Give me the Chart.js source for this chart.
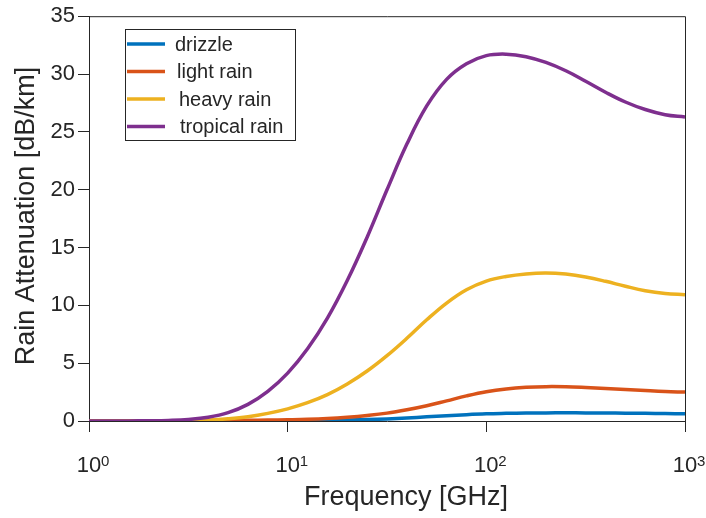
<!DOCTYPE html>
<html>
<head>
<meta charset="utf-8">
<script src="https://cdn.jsdelivr.net/npm/chart.js@4.4.0/dist/chart.umd.min.js"></script>
<style>
  html, body { margin: 0; padding: 0; background: #fff; }
  #wrap { width: 706px; height: 518px; }
</style>
</head>
<body>
<div id="wrap"><canvas id="rainPlot" width="706" height="518"></canvas></div>
<script>
// frequency grid [GHz], ten log steps per decade
const freqs = [1, 1.259, 1.585, 1.995, 2.512, 3.162, 3.981, 5.012, 6.31, 7.943,
  10, 12.59, 15.85, 19.95, 25.12, 31.62, 39.81, 50.12, 63.1, 79.43,
  100, 125.9, 158.5, 199.5, 251.2, 316.2, 398.1, 501.2, 631, 794.3, 1000];

// specific attenuation [dB/km]
const drizzle = [0, 0, 0, 0, 0, 0, 0.005, 0.01, 0.01, 0.015,
  0.02, 0.03, 0.05, 0.08, 0.12, 0.18, 0.26, 0.36, 0.46, 0.55,
  0.62, 0.66, 0.69, 0.7, 0.71, 0.7, 0.69, 0.68, 0.66, 0.64, 0.63];
const lightRain = [0, 0, 0, 0, 0.01, 0.015, 0.025, 0.04, 0.06, 0.08,
  0.11, 0.15, 0.22, 0.33, 0.48, 0.68, 0.97, 1.32, 1.74, 2.17,
  2.53, 2.77, 2.91, 2.97, 2.96, 2.9, 2.82, 2.72, 2.63, 2.55, 2.5];
const heavyRain = [0, 0, 0, 0.01, 0.02, 0.03, 0.08, 0.19, 0.37, 0.66,
  1.05, 1.58, 2.28, 3.2, 4.32, 5.65, 7.15, 8.75, 10.2, 11.35,
  12.1, 12.5, 12.72, 12.8, 12.7, 12.45, 12.08, 11.65, 11.27, 11.03, 10.92];
const tropicalRain = [0, 0, 0.01, 0.02, 0.05, 0.13, 0.32, 0.72, 1.44, 2.56,
  4.14, 6.24, 8.89, 12.14, 15.89, 19.99, 23.94, 27.24, 29.54, 30.89,
  31.59, 31.72, 31.5, 31.0, 30.28, 29.38, 28.43, 27.58, 26.93, 26.48, 26.28];

const seriesNames = ['drizzle', 'light rain', 'heavy rain', 'tropical rain'];
const seriesColors = ['#0072BD', '#D95319', '#EDB120', '#7E2F8E'];

const xTicks = [1, 10, 100, 1000];
const xTickExp = ['0', '1', '2', '3'];

const FONT = "'Liberation Sans', Arial, Helvetica, sans-serif";
const INK = '#262626';

function toPoints(vals) {
  return freqs.map(function (f, i) { return { x: f, y: vals[i] }; });
}

// box, x tick labels, axis titles, legend
const decorations = {
  id: 'decorations',
  afterDraw(chart) {
    const ctx = chart.ctx;
    const a = chart.chartArea;
    const xs = chart.scales.x;
    ctx.save();

    ctx.strokeStyle = INK;
    ctx.lineWidth = 1;
    ctx.beginPath();
    ctx.moveTo(a.left, a.top + 0.5);
    ctx.lineTo(a.right + 0.5, a.top + 0.5);
    ctx.lineTo(a.right + 0.5, a.bottom);
    ctx.stroke();

    ctx.fillStyle = INK;
    ctx.textBaseline = 'alphabetic';
    xTicks.forEach(function (v, i) {
      const px = xs.getPixelForValue(v);
      ctx.font = '22px ' + FONT;
      ctx.textAlign = 'center';
      ctx.fillText('10', px, 472);
      ctx.font = '15px ' + FONT;
      ctx.textAlign = 'left';
      ctx.fillText(xTickExp[i], px + 12, 466);
    });

    ctx.font = '27px ' + FONT;
    ctx.textAlign = 'center';
    ctx.fillText('Frequency [GHz]', 406, 505);

    ctx.save();
    ctx.translate(34, 216);
    ctx.rotate(-Math.PI / 2);
    ctx.fillText('Rain Attenuation [dB/km]', 0, 0);
    ctx.restore();

    // legend
    ctx.fillStyle = '#fff';
    ctx.fillRect(125, 29, 171, 112);
    ctx.strokeStyle = INK;
    ctx.strokeRect(125.5, 29.5, 170, 111);
    const rowY = [44, 71.5, 99, 126.5];
    const textX = [175, 177, 179, 180];
    ctx.font = '20px ' + FONT;
    ctx.textAlign = 'left';
    ctx.textBaseline = 'middle';
    seriesNames.forEach(function (name, i) {
      ctx.strokeStyle = seriesColors[i];
      ctx.lineWidth = 3.5;
      ctx.beginPath();
      ctx.moveTo(127, rowY[i]);
      ctx.lineTo(165, rowY[i]);
      ctx.stroke();
      ctx.fillStyle = INK;
      ctx.fillText(name, textX[i], rowY[i] + 1);
    });

    ctx.restore();
  }
};

const seriesValues = [drizzle, lightRain, heavyRain, tropicalRain];

new Chart(document.getElementById('rainPlot'), {
  type: 'line',
  data: {
    datasets: seriesValues.map(function (vals, i) {
      return {
        label: seriesNames[i],
        data: toPoints(vals),
        borderColor: seriesColors[i],
        borderWidth: 3.5,
        pointRadius: 0,
        fill: false,
        tension: 0.4,
        order: 4 - i
      };
    })
  },
  options: {
    responsive: false,
    animation: false,
    layout: { padding: { left: 0, top: 16, right: 21, bottom: 0 } },
    plugins: {
      legend: { display: false },
      tooltip: { enabled: false }
    },
    scales: {
      x: {
        type: 'logarithmic',
        min: 1,
        max: 1000,
        afterBuildTicks: function (scale) {
          scale.ticks = xTicks.map(function (v) { return { value: v }; });
        },
        afterFit: function (scale) { scale.height = 97; },
        ticks: { display: false },
        grid: {
          drawOnChartArea: false,
          drawTicks: true,
          tickLength: 11,
          color: INK
        },
        border: { display: true, color: INK, width: 1 }
      },
      y: {
        min: 0,
        max: 35,
        afterFit: function (scale) { scale.width = 89; },
        ticks: {
          stepSize: 5,
          padding: 3,
          color: INK,
          font: { family: FONT, size: 22 }
        },
        grid: {
          drawOnChartArea: false,
          drawTicks: true,
          tickLength: 11,
          color: INK
        },
        border: { display: true, color: INK, width: 1 }
      }
    }
  },
  plugins: [decorations]
});
</script>
</body>
</html>
